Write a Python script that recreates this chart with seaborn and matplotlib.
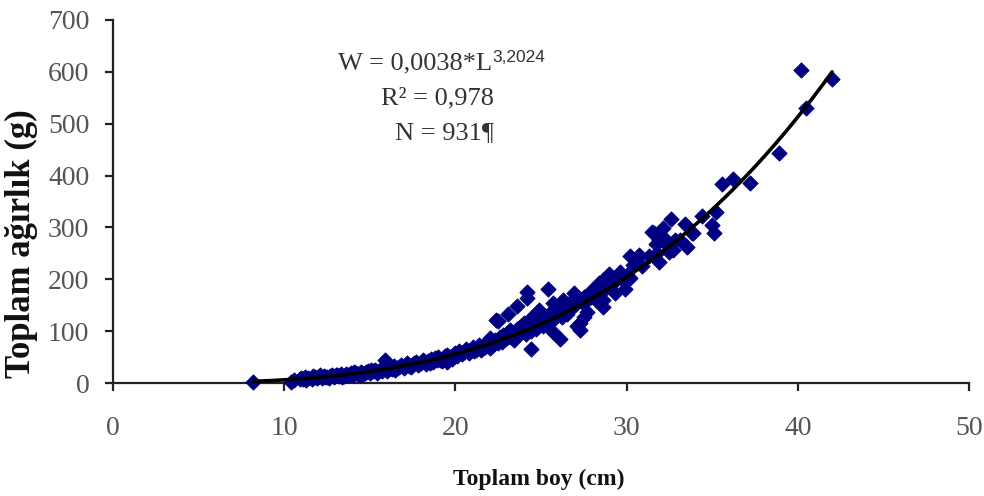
import numpy as np
import pandas as pd
import matplotlib
matplotlib.use("Agg")
import matplotlib.pyplot as plt
import seaborn as sns

# Total length (cm) and total weight (g) of sampled fish
length_cm = [
    8.2, 10.4, 10.6, 10.9, 11.1, 11.2, 11.4, 11.6, 11.7, 11.9, 12.0, 12.2, 12.3, 12.5,
    12.6, 12.8, 12.9, 13.0, 13.2, 13.3, 13.5, 13.6, 13.8, 13.9, 14.0, 14.2, 14.3, 14.5,
    14.6, 14.8, 14.9, 15.0, 15.2, 15.3, 15.5, 15.6, 15.8, 15.9, 16.0, 16.1, 16.3, 16.4,
    16.5, 16.7, 16.8, 17.0, 17.1, 17.2, 17.4, 17.5, 17.7, 17.8, 18.0, 18.1, 18.3, 18.4,
    18.6, 18.7, 18.9, 19.0, 19.2, 19.3, 19.5, 19.5, 19.7, 19.8, 20.0, 20.1, 20.2, 20.4,
    20.5, 20.6, 20.8, 20.9, 21.0, 21.1, 21.3, 21.4, 21.5, 21.7, 21.8, 22.0, 22.0,
    11.0, 11.3, 11.8, 12.1, 12.4, 12.7, 13.1, 13.4, 13.7, 14.1, 14.4, 14.7, 15.1, 15.4,
    15.7, 16.2, 16.6, 16.9, 17.3, 17.6, 17.9, 18.2, 18.5, 18.8, 19.1, 19.4, 19.6, 19.9,
    20.3, 20.7, 21.2, 21.6, 21.9,
    22.2, 22.3, 22.4, 22.5, 22.5, 22.6, 22.7, 22.8, 22.9, 23.0, 23.1, 23.1, 23.2, 23.3,
    23.4, 23.4, 23.5, 23.6, 23.6, 23.7, 23.8, 23.9, 24.0, 24.1, 24.2, 24.2, 24.2, 24.3,
    24.4, 24.4, 24.5, 24.6, 24.7, 24.8, 24.9, 24.9, 25.0, 25.1, 25.2, 25.3, 25.4, 25.4,
    25.5, 25.6, 25.7, 25.7, 25.8, 25.9, 26.0, 26.1, 26.1, 26.2, 26.3, 26.3, 26.4, 26.5,
    26.6, 26.7, 26.8, 26.9, 27.0, 27.1, 27.2, 27.3, 27.3, 27.4, 27.5, 27.5, 27.6, 27.7,
    27.8, 27.9, 28.0, 28.1, 28.2, 28.3, 28.4, 28.5, 28.6, 28.6, 28.6, 28.7, 28.8, 28.9,
    29.0, 29.1, 29.3, 29.4, 29.6, 29.8, 29.9, 30.0, 30.2, 30.2, 30.4, 30.7, 30.9,
    31.3, 31.5, 31.6, 31.7, 31.8, 31.9, 31.9, 32.1, 32.3, 32.3, 32.5, 32.6, 32.7, 32.8,
    33.1, 33.4, 33.5, 33.8, 33.9, 34.4, 35.0, 35.1, 35.2, 35.6, 36.2, 37.2, 38.9, 40.2,
    40.5, 42.0,
]
weight_g = [
    2, 2, 5, 8, 7, 12, 9, 8, 13, 10, 12, 9, 14, 12,
    10, 15, 12, 16, 13, 17, 14, 18, 16, 20, 15, 19, 17, 22,
    18, 21, 24, 19, 23, 26, 21, 25, 28, 45, 24, 30, 27, 33,
    25, 31, 35, 29, 34, 38, 31, 36, 40, 34, 39, 44, 36, 42,
    46, 40, 45, 50, 43, 48, 41, 54, 51, 46, 57, 52, 62, 55,
    60, 66, 58, 64, 70, 61, 67, 73, 63, 70, 78, 68, 86,
    10, 6, 11, 15, 11, 13, 15, 12, 15, 21, 16, 20, 25, 20,
    23, 29, 28, 32, 33, 38, 37, 40, 38, 48, 45, 52, 47, 55,
    58, 62, 64, 72, 74,
    73, 82, 121, 120, 78, 88, 80, 92, 84, 96, 133, 88, 102, 86,
    83, 98, 92, 148, 104, 95, 108, 99, 115, 94, 176, 163, 106, 118,
    65, 101, 128, 110, 104, 122, 141, 112, 118, 109, 125, 116, 181, 130,
    120, 136, 154, 99, 126, 140, 132, 84, 145, 128, 160, 138, 148, 134,
    152, 142, 158, 173, 150, 109, 162, 102, 115, 156, 128, 166, 158, 137,
    172, 165, 179, 170, 160, 184, 192, 176, 147, 160, 199, 186, 183, 205,
    211, 190, 173, 198, 215, 199, 181, 208, 244, 202, 228, 247, 225,
    244, 292, 290, 269, 250, 276, 234, 298, 269, 276, 253, 317, 256, 276,
    276, 307, 262, 290, 289, 323, 305, 290, 329, 384, 393, 386, 443, 604,
    530, 586,
]

# Power-law length-weight fit W = a * L^b
coef_a = 0.0038
coef_b = 3.2024
r_squared = "0,978"
n_fish = 931

x_ticks = [0, 10, 20, 30, 40, 50]
y_ticks = [0, 100, 200, 300, 400, 500, 600, 700]

sns.set_theme(style="ticks")
plt.rcParams["font.family"] = ["Liberation Serif", "DejaVu Serif"]

fig = plt.figure(figsize=(9.84, 4.96), dpi=100)
ax = fig.add_axes([0.1148, 0.2278, 0.8700, 0.7319])

df = pd.DataFrame({"L": length_cm, "W": weight_g})
sns.scatterplot(data=df, x="L", y="W", ax=ax, marker="D", s=58,
                color="#000080", edgecolor="#000080", linewidth=0.8,
                clip_on=False, zorder=3)

fit_L = np.linspace(min(length_cm), max(length_cm), 300)
fit_df = pd.DataFrame({"L": fit_L, "W": coef_a * fit_L ** coef_b})
sns.lineplot(data=fit_df, x="L", y="W", ax=ax, color="black", linewidth=2.6,
             zorder=4)

ax.set_xlim(0, 50)
ax.set_ylim(0, 700)
ax.set_xticks(x_ticks)
ax.set_yticks(y_ticks)
sns.despine(ax=ax)
for side in ("left", "bottom"):
    ax.spines[side].set_linewidth(1.6)
    ax.spines[side].set_color("#222222")
ax.tick_params(axis="both", direction="out", length=6, width=1.6,
               color="#222222", labelsize=20, labelcolor="#555555")
ax.tick_params(axis="x", pad=18)
ax.tick_params(axis="y", pad=11)

ax.set_xlabel("Toplam boy (cm)", fontsize=17, fontweight="bold", color="#111111")
ax.set_ylabel("Toplam ağırlık (g)", fontsize=25, fontweight="bold", color="#111111")
ax.xaxis.set_label_coords(0.497, -0.235)
ax.yaxis.set_label_coords(-0.088, 0.385)

# Fit statistics
txt_color = "#333333"
fig.text(0.500, 0.872, "W = 0,0038*L", ha="right", va="center", fontsize=19,
         color=txt_color)
fig.text(0.500, 0.884, "3,2024", ha="left", va="center", fontsize=12.5,
         color=txt_color, family=["Liberation Sans", "DejaVu Sans"])
fig.text(0.445, 0.802, f"R\u00b2 = {r_squared}", ha="center", va="center",
         fontsize=19, color=txt_color)
fig.text(0.452, 0.732, f"N = {n_fish}\u00b6", ha="center", va="center",
         fontsize=19, color=txt_color)

fig.savefig("out.png", dpi=100)
